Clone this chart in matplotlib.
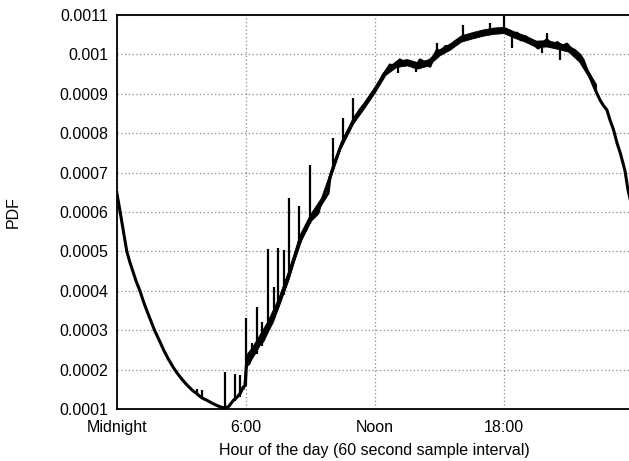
import matplotlib.pyplot as plt
import numpy as np

# hour of day vs. probability density of events (per minute bin)
hours = [0.0, 0.1, 0.2, 0.31, 0.47, 0.6, 0.75, 0.9, 1.08, 1.25, 1.4, 1.58,
         1.76, 2.0, 2.2, 2.4, 2.64, 2.8, 3.0, 3.2, 3.36, 3.55, 3.7, 3.85,
         3.97, 4.2, 4.43, 4.7, 4.9, 5.04, 5.2, 5.43, 5.6, 5.75, 5.88,
         5.98, 6.03, 6.15, 6.28, 6.45, 6.6, 6.8, 7.04, 7.25, 7.5, 7.7,
         7.9, 8.15, 8.35, 8.6, 8.8, 9.0, 9.2, 9.36, 9.45, 9.6, 9.83, 9.92,
         10.1, 10.39, 10.6, 10.85, 11.1, 11.32, 11.55, 11.78, 12.1, 12.25,
         12.4, 12.57, 12.71, 12.9, 13.17, 13.4, 13.64, 13.8, 13.97, 14.11,
         14.3, 14.57, 14.75, 14.9, 15.1, 15.3, 15.5, 15.75, 16.0, 16.2,
         16.45, 16.7, 16.9, 17.15, 17.4, 17.6, 17.83, 17.97, 18.2, 18.4,
         18.62, 18.8, 19.0, 19.2, 19.36, 19.6, 19.8, 20.0, 20.15, 20.3,
         20.5, 20.7, 20.94, 21.1, 21.3, 21.55, 21.69, 21.87, 22.01, 22.15,
         22.3, 22.48, 22.64, 22.8, 22.94, 23.1, 23.27, 23.42, 23.55, 23.64,
         23.78, 24.0]
pdf = [0.00065, 0.00062, 0.000588, 0.000554, 0.0005, 0.000475, 0.00045,
       0.000425, 0.0004, 0.000372, 0.00035, 0.000325, 0.0003, 0.000272,
       0.000248, 0.000227, 0.000205, 0.000192, 0.000178, 0.000165, 0.000156,
       0.000146, 0.00014, 0.000133, 0.000128, 0.000122, 0.000115, 0.000108,
       0.000104, 0.000103, 0.000106, 0.000122, 0.00013, 0.00014, 0.000155,
       0.00016, 0.00021, 0.000215, 0.000232, 0.000245, 0.000262, 0.000272,
       0.0003, 0.000322, 0.00036, 0.000392, 0.00042, 0.000465, 0.000495,
       0.000535, 0.000555, 0.000578, 0.000588, 0.000597, 0.000615,
       0.000628, 0.000648, 0.000688, 0.00072, 0.000762, 0.000788,
       0.000814, 0.000838, 0.000859, 0.000874, 0.000892, 0.000918,
       0.000932, 0.000948, 0.00096, 0.000973, 0.00097, 0.000986, 0.000978,
       0.00098, 0.000968, 0.000973, 0.000986, 0.00098, 0.00097, 0.000995,
       0.00101, 0.001008, 0.00102, 0.00102, 0.001032, 0.00104, 0.001046,
       0.001042, 0.00105, 0.001052, 0.001055, 0.001058, 0.00106, 0.001063,
       0.001065, 0.001052, 0.00105, 0.001054, 0.001037, 0.001045, 0.001035,
       0.00103, 0.001016, 0.001025, 0.001037, 0.00103, 0.001024, 0.00103,
       0.00102, 0.001026, 0.001016, 0.00101, 0.000998, 0.000986, 0.00096,
       0.000943, 0.000925, 0.000905, 0.000884, 0.00087, 0.000859, 0.000834,
       0.00081, 0.000775, 0.00075, 0.000724, 0.000705, 0.000656, 0.000605]

# spread of the minute-to-minute scatter around the curve
band_hours = [5.9, 6.05, 6.3, 6.6, 7.0, 7.5, 8.0, 8.5, 9.0, 9.5, 9.9, 10.4,
              11.0, 11.5, 12.0, 12.5, 13.0, 13.5, 14.0, 14.5, 15.0, 15.5,
              16.0, 16.5, 17.0, 17.5, 18.0, 18.5, 19.0, 19.5, 20.0, 20.5,
              21.0, 21.5, 22.0, 22.3]
band_low = [0.00015, 0.00021, 0.00023, 0.000258, 0.000296, 0.000356,
            0.00043, 0.00052, 0.000575, 0.000618, 0.00068, 0.00076,
            0.000825, 0.000863, 0.000903, 0.000948, 0.000968, 0.000972,
            0.000964, 0.000972, 0.000997, 0.001012, 0.001032, 0.00104,
            0.001047, 0.001052, 0.001054, 0.001042, 0.001032, 0.001019,
            0.00102, 0.001014, 0.001007, 0.000982, 0.000938, 0.000912]
band_high = [0.00017, 0.00024, 0.000258, 0.000285, 0.000322, 0.00038,
             0.000455, 0.000542, 0.000595, 0.000636, 0.000698, 0.000776,
             0.000842, 0.000879, 0.000919, 0.000963, 0.000984, 0.000988,
             0.00098, 0.000988, 0.001013, 0.001028, 0.001048, 0.001056,
             0.001063, 0.001068, 0.00107, 0.001058, 0.001048, 0.001035,
             0.001036, 0.00103, 0.001023, 0.000998, 0.000952, 0.000924]

# short bursts (and drops) sticking out of the curve
spike_hours = [3.73, 3.97, 5.04, 5.5, 5.73, 6.02, 6.29, 6.53, 6.76, 7.04, 7.32,
               7.5, 7.76, 8.01, 8.5, 8.99, 10.06, 10.53, 11.0, 13.1, 13.9,
               14.9, 16.1, 17.37, 18.01, 18.4, 19.8, 20.0, 20.6]
spike_low = [0.000138, 0.000128, 0.000103, 0.00012, 0.00013, 0.00016,
             0.00023, 0.00024, 0.00026, 0.0003, 0.00033, 0.00036, 0.00039,
             0.00045, 0.00052, 0.00057, 0.00072, 0.00078, 0.00083, 0.000953,
             0.000955, 0.001, 0.00104, 0.00105, 0.001063, 0.001016,
             0.001003, 0.00103, 0.000986]
spike_high = [0.00015, 0.000148, 0.000193, 0.00019, 0.000186, 0.00033,
              0.000268, 0.00036, 0.00032, 0.000506, 0.00041, 0.000508,
              0.000503, 0.000636, 0.000615, 0.00072, 0.000788, 0.000838,
              0.00089, 0.000982, 0.000975, 0.00103, 0.001075, 0.00108,
              0.0011, 0.00105, 0.00103, 0.001054, 0.00102]

tick_hours = [0, 6, 12, 18]
tick_names = ['Midnight', '6:00', 'Noon', '18:00']
pdf_ticks = [0.0001, 0.0002, 0.0003, 0.0004, 0.0005, 0.0006, 0.0007, 0.0008,
             0.0009, 0.001, 0.0011]
pdf_names = ['0.0001', '0.0002', '0.0003', '0.0004', '0.0005', '0.0006',
             '0.0007', '0.0008', '0.0009', '0.001', '0.0011']

plt.rcParams['font.family'] = ['Liberation Sans', 'DejaVu Sans']

fig = plt.figure(figsize=(6.29, 4.61), dpi=100)
ax = fig.add_axes([0.1855, 0.1128, 0.8204, 0.8547])

ax.fill_between(band_hours, band_low, band_high, color='black', lw=0.6)
ax.plot(hours, pdf, color='black', lw=2.2, solid_joinstyle='round')
ax.vlines(spike_hours, spike_low, spike_high, color='black', lw=1.6)

ax.set_xlim(0, 24)
ax.set_ylim(0.0001, 0.0011)
ax.set_xticks(tick_hours, tick_names)
ax.set_yticks(pdf_ticks, pdf_names)
ax.tick_params(length=0, labelsize=11.5, pad=6)
ax.tick_params(axis='x', pad=8)

ax.grid(True, color='#888888', ls=(0, (1, 2)), lw=0.9)
ax.set_axisbelow(True)
for side in ['left', 'bottom', 'top']:
    ax.spines[side].set_linewidth(1.3)
ax.spines['right'].set_visible(False)

ax.set_xlabel('Hour of the day (60 second sample interval)', fontsize=11.5,
              labelpad=6)
ax.set_ylabel('PDF', fontsize=11.5, labelpad=28)

fig.savefig('out.png', dpi=100)
